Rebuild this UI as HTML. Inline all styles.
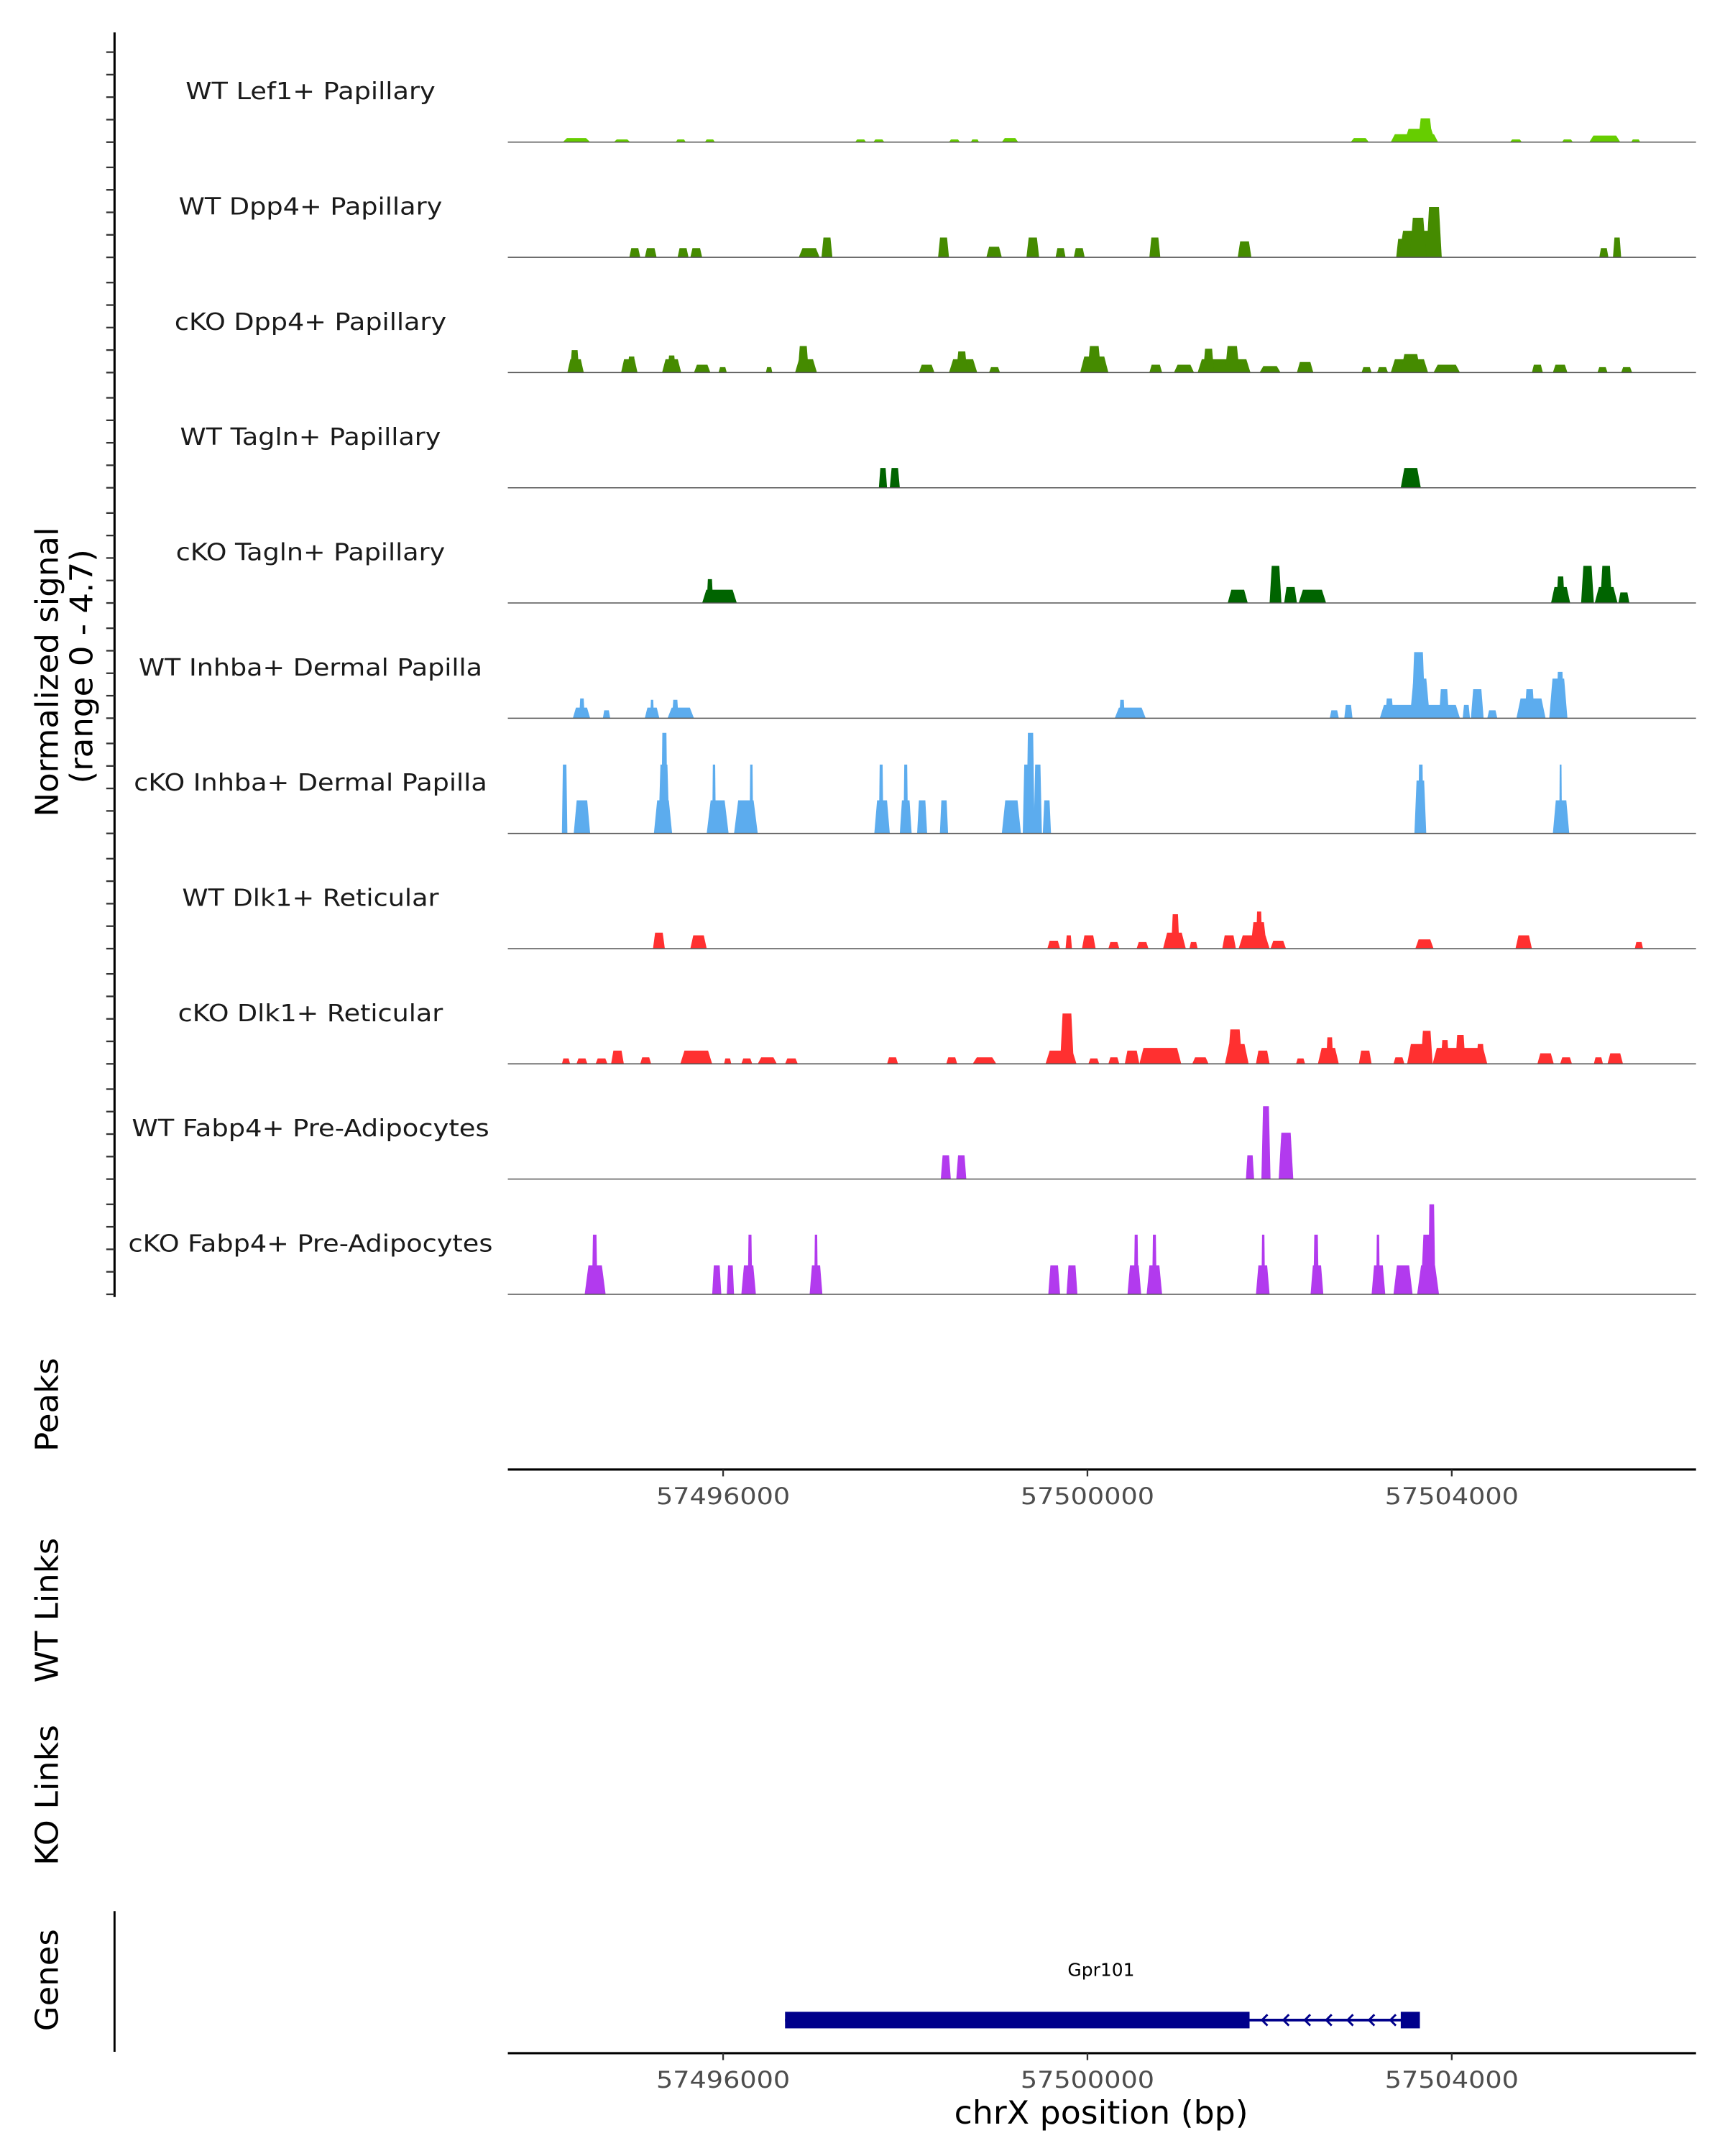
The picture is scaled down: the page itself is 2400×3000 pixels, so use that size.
<!DOCTYPE html>
<html><head><meta charset="utf-8">
<style>
html,body{margin:0;padding:0;background:#fff;}
svg{display:block;font-family:"DejaVu Sans","Liberation Sans",sans-serif;}
</style></head>
<body>
<svg id="chart" xmlns="http://www.w3.org/2000/svg" width="2400" height="3000" viewBox="0 0 1250 1562.5">
<rect width="1250" height="1562.5" fill="#fff"/>
<g id="tracks"></g>
<g id="axes"></g>
<text transform="translate(42,487) rotate(-90)" text-anchor="middle" font-size="22.5" fill="#000" textLength="210" lengthAdjust="spacingAndGlyphs">Normalized signal</text>
<text transform="translate(67,483) rotate(-90)" text-anchor="middle" font-size="22.5" fill="#000" textLength="170" lengthAdjust="spacingAndGlyphs">(range 0 - 4.7)</text>
<text transform="translate(42,1018) rotate(-90)" text-anchor="middle" font-size="22.5" fill="#000" textLength="68" lengthAdjust="spacingAndGlyphs">Peaks</text>
<text transform="translate(42,1167) rotate(-90)" text-anchor="middle" font-size="22.5" fill="#000" textLength="105" lengthAdjust="spacingAndGlyphs">WT Links</text>
<text transform="translate(42,1301) rotate(-90)" text-anchor="middle" font-size="22.5" fill="#000" textLength="102" lengthAdjust="spacingAndGlyphs">KO Links</text>
<text transform="translate(42,1435) rotate(-90)" text-anchor="middle" font-size="22.5" fill="#000" textLength="74" lengthAdjust="spacingAndGlyphs">Genes</text>
<line x1="83" y1="1385" x2="83" y2="1487" stroke="#000" stroke-width="1.5"/>
<text x="798" y="1539" text-anchor="middle" font-size="23" fill="#000" textLength="213" lengthAdjust="spacingAndGlyphs">chrX position (bp)</text>
</svg>
<script>
const trackNames = ["WT Lef1+ Papillary","WT Dpp4+ Papillary","cKO Dpp4+ Papillary","WT Tagln+ Papillary","cKO Tagln+ Papillary","WT Inhba+ Dermal Papilla","cKO Inhba+ Dermal Papilla","WT Dlk1+ Reticular","cKO Dlk1+ Reticular","WT Fabp4+ Pre-Adipocytes","cKO Fabp4+ Pre-Adipocytes"];
const trackColors = ["#66CD00","#458B00","#458B00","#006400","#006400","#5CACEE","#5CACEE","#FF3030","#FF3030","#B23AEE","#B23AEE"];
const xTicks = [57496000, 57500000, 57504000];
const xTickLabels = ["57496000","57500000","57504000"];
const gene = {name:"Gpr101", start:57496680, thickEnd:57501780, exonStart:57503440, end:57503650};
// peaks per track: [start kb, end kb, signal]
const lef1WT = [[57494.24,57494.54,.18],[57494.80,57494.98,.12],[57495.48,57495.59,.12],[57495.80,57495.91,.12],[57497.45,57497.57,.12],[57497.65,57497.77,.12],[57498.48,57498.60,.12],[57498.72,57498.81,.12],[57499.06,57499.24,.18],[57502.89,57503.09,.18],[57503.33,57503.85,.35],[57503.48,57503.82,.59],[57503.63,57503.79,1.06],[57504.64,57504.77,.12],[57505.21,57505.33,.12],[57505.51,57505.85,.29],[57505.97,57506.07,.12]];
const dpp4WT = [[57494.97,57495.09,.41],[57495.14,57495.27,.41],[57495.50,57495.62,.41],[57495.64,57495.77,.41],[57496.83,57497.06,.41],[57497.08,57497.20,.88],[57498.36,57498.48,.88],[57498.89,57499.06,.47],[57499.33,57499.47,.88],[57499.65,57499.76,.41],[57499.85,57499.97,.41],[57500.68,57500.80,.88],[57501.65,57501.80,.71],[57503.39,57503.51,.82],[57503.42,57503.89,1.18],[57503.54,57503.72,1.76],[57503.72,57503.89,2.24],[57505.62,57505.72,.41],[57505.77,57505.86,.88]];
const dpp4KO = [[57494.29,57494.47,.59],[57494.32,57494.42,1.0],[57494.88,57495.06,.59],[57494.95,57495.04,.71],[57495.33,57495.54,.59],[57495.39,57495.48,.76],[57495.68,57495.86,.35],[57495.95,57496.04,.24],[57496.47,57496.54,.24],[57496.79,57497.03,.59],[57496.82,57496.94,1.18],[57498.15,57498.32,.35],[57498.48,57498.79,.59],[57498.56,57498.68,.94],[57498.92,57499.04,.24],[57499.92,57500.23,.71],[57500.00,57500.15,1.18],[57500.68,57500.82,.35],[57500.95,57501.17,.35],[57501.21,57501.79,.59],[57501.27,57501.39,1.06],[57501.51,57501.67,1.18],[57501.89,57502.12,.29],[57502.30,57502.48,.47],[57503.01,57503.12,.24],[57503.18,57503.30,.24],[57503.33,57503.74,.59],[57503.44,57503.66,.82],[57503.80,57504.09,.35],[57504.88,57505.00,.35],[57505.11,57505.27,.35],[57505.60,57505.71,.24],[57505.86,57505.98,.24]];
const taglnWT = [[57497.71,57497.80,.88],[57497.83,57497.94,.88],[57503.44,57503.66,.88]];
const taglnKO = [[57495.77,57496.15,.59],[57495.82,57495.89,1.06],[57501.54,57501.76,.59],[57502.00,57502.13,1.65],[57502.16,57502.30,.71],[57502.32,57502.62,.59],[57505.09,57505.30,.71],[57505.15,57505.24,1.18],[57505.42,57505.56,1.65],[57505.57,57505.82,.71],[57505.63,57505.76,1.65],[57505.83,57505.95,.47]];
const inhbaWT = [[57494.35,57494.54,.47],[57494.42,57494.48,.88],[57494.68,57494.76,.35],[57495.14,57495.30,.47],[57495.20,57495.24,.82],[57495.39,57495.68,.47],[57495.44,57495.51,.82],[57500.30,57500.64,.47],[57500.35,57500.41,.82],[57502.66,57502.76,.35],[57502.82,57502.91,.59],[57503.21,57504.09,.59],[57503.27,57503.36,.88],[57503.54,57503.76,1.76],[57503.56,57503.71,2.94],[57503.86,57503.97,1.29],[57504.12,57504.20,.59],[57504.21,57504.35,1.29],[57504.39,57504.50,.35],[57504.71,57505.03,.88],[57504.80,57504.91,1.29],[57505.07,57505.27,1.76],[57505.15,57505.23,2.06]];
const inhbaKO = [[57494.23,57494.29,3.06],[57494.36,57494.54,1.47],[57495.24,57495.44,1.47],[57495.29,57495.41,3.06],[57495.32,57495.39,4.47],[57495.82,57496.06,1.47],[57495.88,57495.92,3.06],[57496.12,57496.38,1.47],[57496.29,57496.33,3.06],[57497.66,57497.83,1.47],[57497.71,57497.76,3.06],[57497.94,57498.07,1.47],[57497.98,57498.03,3.06],[57498.13,57498.24,1.47],[57498.38,57498.47,1.47],[57499.06,57499.27,1.47],[57499.29,57499.38,3.06],[57499.33,57499.42,4.47],[57499.41,57499.50,3.06],[57499.51,57499.60,1.47],[57503.59,57503.72,2.35],[57503.63,57503.69,3.06],[57505.11,57505.29,1.47],[57505.18,57505.21,3.06]];
const dlk1WT = [[57495.23,57495.36,.71],[57495.64,57495.82,.59],[57499.56,57499.70,.35],[57499.76,57499.83,.59],[57499.94,57500.09,.59],[57500.23,57500.35,.29],[57500.54,57500.67,.29],[57500.83,57501.08,.71],[57500.92,57501.01,1.53],[57501.12,57501.21,.29],[57501.48,57501.63,.59],[57501.66,57502.00,.59],[57501.79,57501.97,1.18],[57501.85,57501.92,1.65],[57502.01,57502.18,.35],[57503.60,57503.80,.41],[57504.70,57504.88,.59],[57506.01,57506.10,.29]];
const dlk1KO = [[57494.23,57494.32,.24],[57494.39,57494.51,.24],[57494.60,57494.73,.24],[57494.77,57494.91,.59],[57495.09,57495.21,.29],[57495.53,57495.88,.59],[57496.01,57496.09,.24],[57496.20,57496.32,.24],[57496.38,57496.59,.29],[57496.68,57496.82,.24],[57497.80,57497.92,.29],[57498.45,57498.57,.29],[57498.74,57499.00,.29],[57499.54,57499.88,.59],[57499.70,57499.85,2.24],[57500.01,57500.13,.24],[57500.23,57500.35,.29],[57500.41,57500.57,.59],[57500.57,57501.03,.71],[57501.15,57501.33,.29],[57501.51,57501.77,.88],[57501.54,57501.70,1.53],[57501.85,57502.00,.59],[57502.29,57502.39,.24],[57502.53,57502.76,.71],[57502.62,57502.70,1.18],[57502.98,57503.12,.59],[57503.36,57503.48,.29],[57503.51,57503.74,.88],[57503.66,57503.79,1.47],[57503.79,57504.39,.71],[57503.88,57503.97,1.06],[57504.04,57504.15,1.29],[57504.27,57504.36,.88],[57504.94,57505.12,.47],[57505.19,57505.32,.29],[57505.56,57505.66,.29],[57505.71,57505.88,.47]];
const fabp4WT = [[57498.39,57498.50,1.06],[57498.56,57498.67,1.06],[57501.74,57501.83,1.06],[57501.91,57502.01,3.24],[57502.10,57502.26,2.06]];
const fabp4KO = [[57494.48,57494.71,1.29],[57494.56,57494.62,2.65],[57495.88,57495.98,1.29],[57496.04,57496.12,1.29],[57496.20,57496.36,1.29],[57496.27,57496.32,2.65],[57496.95,57497.09,1.29],[57497.00,57497.04,2.65],[57499.57,57499.70,1.29],[57499.77,57499.89,1.29],[57500.44,57500.59,1.29],[57500.51,57500.56,2.65],[57500.65,57500.82,1.29],[57500.71,57500.76,2.65],[57501.85,57502.00,1.29],[57501.91,57501.95,2.65],[57502.45,57502.59,1.29],[57502.48,57502.54,2.65],[57503.12,57503.27,1.29],[57503.17,57503.21,2.65],[57503.36,57503.57,1.29],[57503.62,57503.86,1.29],[57503.66,57503.82,2.65],[57503.74,57503.82,4.0]];
const trackData = [lef1WT,dpp4WT,dpp4KO,taglnWT,taglnKO,inhbaWT,inhbaKO,dlk1WT,dlk1KO,fabp4WT,fabp4KO];

const NS="http://www.w3.org/2000/svg";
const X0=368, X1=1229, BP_REF=57500000, PX_REF=788;
function xScale(bp){return PX_REF+(bp-BP_REF)*0.066;}
function xKb(kb){return xScale(kb*1000);}
const PX_PER_UNIT=16.3;
function baseY(i){return 103+i*83.5;}
function yScale(i,v){return baseY(i)-v*PX_PER_UNIT;}
function mk(tag,attrs,parent){const e=document.createElementNS(NS,tag);for(const k in attrs)e.setAttribute(k,attrs[k]);parent.appendChild(e);return e;}

const tracks=document.getElementById('tracks');
const axes=document.getElementById('axes');
const labelW=[181,191,197,189,195,249,256,186,192,259,264];
trackNames.forEach((name,i)=>{
  const g=mk('g',{},tracks);
  
  
  const t=mk('text',{x:225,y:baseY(i)-31,'text-anchor':'middle','font-size':17,fill:'#1a1a1a',textLength:labelW[i],lengthAdjust:'spacingAndGlyphs'},g);
  t.textContent=name;
  
  
  trackData[i].forEach(p=>{
    const s=xKb(p[0]), e=xKb(p[1]), w=e-s, sl=Math.min(w*0.18,3);
    const b=baseY(i), top=yScale(i,p[2]);
    const poly=mk('polygon',{points:`${s},${b} ${s+sl},${top} ${e-sl},${top} ${e},${b}`,fill:trackColors[i]},g);
    
    
  });
  const bl=mk('line',{x1:X0,x2:X1,y1:baseY(i),y2:baseY(i),stroke:'#555','stroke-width':0.8},g);
  
  
});
const ya=mk('line',{x1:83,x2:83,y1:23.5,y2:940,stroke:'#000','stroke-width':1.6},axes);


for(let i=0;i<11;i++){for(let k=0;k<5;k++){
  const y=yScale(i,k);
  const tk=mk('line',{x1:77,x2:83,y1:y,y2:y,stroke:'#333','stroke-width':1.2},axes);
  
  
}}
[1065,1488].forEach((ay,j)=>{
  const l=mk('line',{x1:X0,x2:X1,y1:ay,y2:ay,stroke:'#000','stroke-width':1.6},axes);
  
  
  xTicks.forEach((t,k)=>{
    const x=xScale(t);
    const tk=mk('line',{x1:x,x2:x,y1:ay,y2:ay+5,stroke:'#333','stroke-width':1.2},axes);
    
    
    const tl=mk('text',{x:x,y:ay+25,'text-anchor':'middle','font-size':16.5,fill:'#4d4d4d',textLength:97,lengthAdjust:'spacingAndGlyphs'},axes);
    tl.textContent=xTickLabels[k];
    
    
  });
});
const gg=mk('g',{},axes);


const gs=xScale(gene.start), gt=xScale(gene.thickEnd), ge=xScale(gene.end), gx=xScale(gene.exonStart);
mk('line',{x1:gs,x2:ge,y1:1464,y2:1464,stroke:'#00008B','stroke-width':2},gg);
mk('rect',{x:gs,y:1458,width:gt-gs,height:12,fill:'#00008B'},gg);
mk('rect',{x:gx,y:1458,width:ge-gx,height:12,fill:'#00008B'},gg);
for(let k=0;k<7;k++){
  const ax=gt+9+k*15.5;
  mk('polyline',{points:`${ax+4},${1460} ${ax},${1464} ${ax+4},${1468}`,fill:'none',stroke:'#00008B','stroke-width':1.5},gg);
}
const gl=mk('text',{x:(gs+ge)/2-1,y:1432,'text-anchor':'middle','font-size':13,fill:'#000'},gg);
gl.textContent=gene.name;


</script>
</body></html>
